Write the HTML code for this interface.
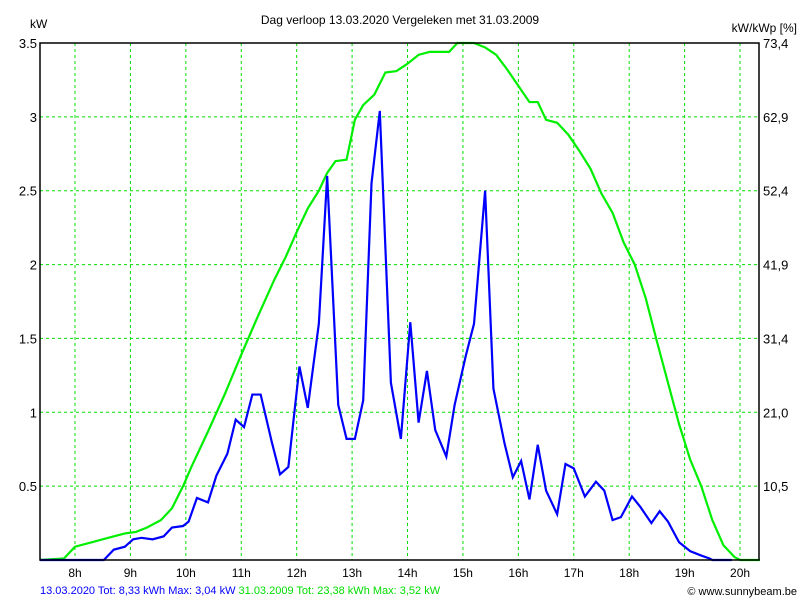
<!DOCTYPE html>
<html><head><meta charset="utf-8"><style>
body{margin:0;background:#fff}
svg{display:block;font-family:"Liberation Sans",sans-serif}
</style></head><body>
<svg id="chart" width="800" height="600" viewBox="0 0 800 600">
<text x="30" y="28" font-size="12">kW</text>
<text x="400" y="24" font-size="12" text-anchor="middle">Dag  verloop 13.03.2020   Vergeleken met 31.03.2009</text>
<text x="797" y="32" font-size="12" text-anchor="end">kW/kWp [%]</text>
<g id="grid"></g><g id="series"></g><g id="axes"></g>
<text x="40" y="594" font-size="11"><tspan fill="#0000ff">13.03.2020 Tot: 8,33 kWh Max: 3,04 kW</tspan><tspan fill="#00dd00"> 31.03.2009 Tot: 23,38 kWh Max: 3,52 kW</tspan></text>
<text x="797" y="595" font-size="11" text-anchor="end">© www.sunnybeam.be</text>
</svg>
<script>
const hours=[8,9,10,11,12,13,14,15,16,17,18,19,20];
const yTicks=[0.5,1,1.5,2,2.5,3,3.5];
const yTickLabels=["0.5","1","1.5","2","2.5","3","3.5"];
const rightTickLabels=["10,5","21,0","31,4","41,9","52,4","62,9","73,4"];
const blueT=[7.37,8.52,8.7,8.9,9.05,9.2,9.4,9.6,9.75,9.95,10.05,10.2,10.4,10.55,10.75,10.9,11.05,11.2,11.35,11.55,11.7,11.85,12.05,12.2,12.4,12.55,12.75,12.9,13.05,13.2,13.35,13.5,13.7,13.88,14.05,14.2,14.35,14.5,14.7,14.85,15.05,15.2,15.4,15.55,15.75,15.9,16.05,16.2,16.35,16.5,16.7,16.85,17.0,17.2,17.4,17.55,17.7,17.85,18.05,18.2,18.4,18.55,18.7,18.9,19.1,19.3,19.45,19.5,19.85];
const blueV=[0,0,0.07,0.09,0.14,0.15,0.14,0.16,0.22,0.23,0.26,0.42,0.39,0.57,0.72,0.95,0.9,1.12,1.12,0.8,0.58,0.63,1.31,1.03,1.6,2.6,1.05,0.82,0.82,1.08,2.55,3.04,1.2,0.82,1.61,0.93,1.28,0.88,0.7,1.05,1.38,1.6,2.5,1.16,0.79,0.56,0.67,0.41,0.78,0.47,0.31,0.65,0.62,0.43,0.53,0.47,0.27,0.29,0.43,0.36,0.25,0.33,0.26,0.12,0.06,0.03,0.01,0,0];
const greenT=[7.37,7.8,8.0,8.3,8.6,8.9,9.1,9.3,9.55,9.75,9.95,10.1,10.4,10.7,11.0,11.3,11.6,11.8,12.0,12.2,12.4,12.55,12.7,12.9,13.05,13.2,13.4,13.6,13.8,14.0,14.2,14.4,14.6,14.75,14.9,15.2,15.4,15.6,15.8,16.0,16.2,16.35,16.5,16.7,16.9,17.1,17.3,17.5,17.7,17.9,18.1,18.3,18.5,18.7,18.9,19.1,19.3,19.5,19.7,19.9,20.0,20.36];
const greenV=[0,0.01,0.09,0.12,0.15,0.18,0.19,0.22,0.27,0.35,0.5,0.63,0.87,1.12,1.39,1.65,1.9,2.05,2.22,2.38,2.5,2.62,2.7,2.71,2.98,3.08,3.15,3.3,3.31,3.36,3.42,3.44,3.44,3.44,3.5,3.5,3.47,3.42,3.32,3.21,3.1,3.1,2.98,2.96,2.88,2.77,2.65,2.48,2.35,2.15,2.0,1.77,1.48,1.2,0.92,0.68,0.5,0.27,0.1,0.02,0,0];
const L=40,R=759,T=43,B=560;
const x=t=>75+(t-8)*55.42;
const y=v=>B-v*(B-T)/3.5;
const NS="http://www.w3.org/2000/svg";
function mk(tag,parent,attrs){const e=document.createElementNS(NS,tag);for(const k in attrs)e.setAttribute(k,attrs[k]);parent.appendChild(e);return e;}
const grid=document.getElementById('grid'),axes=document.getElementById('axes'),series=document.getElementById('series');
hours.forEach(h=>{
 const g=mk('line',grid,{x1:x(h),x2:x(h),y1:T,y2:B,stroke:'#00e000','stroke-dasharray':'3,3'});
 
 
 const t=mk('text',axes,{x:x(h),y:577,'font-size':12,'text-anchor':'middle'});t.textContent=h+'h';
 
 
});
yTicks.forEach((v,i)=>{
 const g=mk('line',grid,{x1:L,x2:R,y1:y(v),y2:y(v),stroke:'#00e000','stroke-dasharray':'3,3'});
 
 
 const t=mk('text',axes,{x:37,y:y(v)+5,'font-size':13,'text-anchor':'end'});t.textContent=yTickLabels[i];
 
 
 const r=mk('text',axes,{x:763,y:y(v)+5,'font-size':13});r.textContent=rightTickLabels[i];
 
 
});
const frame=mk('path',axes,{d:`M${L} ${T}H${R}V${B}H${L}Z`,fill:'none',stroke:'#000','stroke-width':1.5});


const gl=mk('polyline',series,{points:greenT.map((t,i)=>x(t)+','+y(greenV[i])).join(' '),fill:'none',stroke:'#00ee00','stroke-width':2.2});


const bl=mk('polyline',series,{points:blueT.map((t,i)=>x(t)+','+y(blueV[i])).join(' '),fill:'none',stroke:'#0000ff','stroke-width':2.2});


</script>
</body></html>
